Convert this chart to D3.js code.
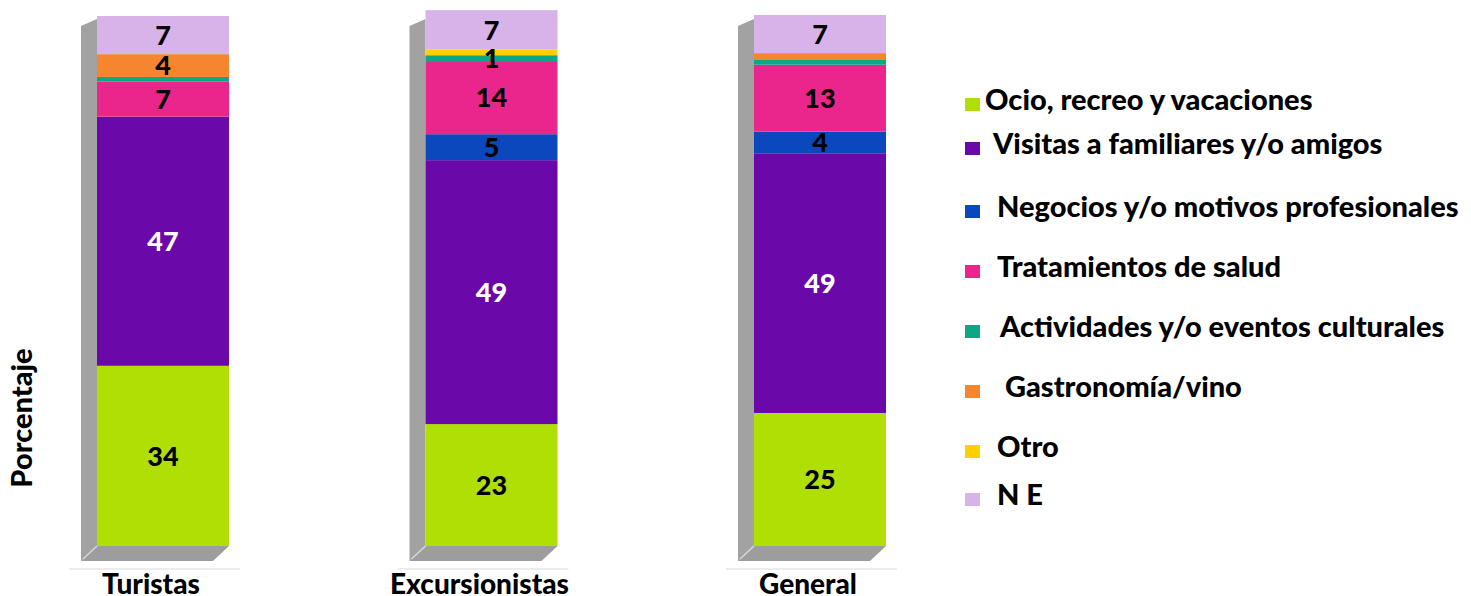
<!DOCTYPE html>
<html><head><meta charset="utf-8">
<script src="https://cdn.jsdelivr.net/npm/d3@7"></script>
<style>
html,body{margin:0;padding:0;background:#fff;}
svg{display:block;font-family:Lato,"Open Sans",sans-serif;font-weight:bold;}
</style></head>
<body>
<svg id="chart" width="1471" height="596"></svg>
<script>
// ---- data ----
const categories = ["Turistas", "Excursionistas", "General"];
const seriesNames = [
  "Ocio, recreo y vacaciones",
  "Visitas a familiares y/o amigos",
  "Negocios y/o motivos profesionales",
  "Tratamientos de salud",
  "Actividades y/o eventos culturales",
  "Gastronomía/vino",
  "Otro",
  "N E"
];
const seriesColors = ["#b0df06", "#6a08aa", "#0c48bd", "#ea268c", "#0ea685", "#f5862f", "#ffd000", "#d7b3ea"];
const ocio        = [34, 23, 25.1];
const visitas     = [47, 49.8, 49];
const negocios    = [0, 4.9, 4.1];
const salud       = [6.6, 13.8, 12.6];
const actividades = [0.9, 1.1, 0.9];
const gastronomia = [4.3, 0, 1.3];
const otro        = [0, 1.1, 0];
const ne          = [7.2, 7.4, 7.2];
// printed data labels (null = not shown)
const labelOcio        = ["34", "23", "25"];
const labelVisitas     = ["47", "49", "49"];
const labelNegocios    = [null, "5", "4"];
const labelSalud       = ["7", "14", "13"];
const labelActividades = [null, "1", null];
const labelGastronomia = ["4", null, null];
const labelOtro        = [null, null, null];
const labelNe          = ["7", "7", "7"];
const yTicks = [0, 100];
const yTitle = "Porcentaje";

const seriesValues = [ocio, visitas, negocios, salud, actividades, gastronomia, otro, ne];
const seriesLabels = [labelOcio, labelVisitas, labelNegocios, labelSalud, labelActividades, labelGastronomia, labelOtro, labelNe];
const whiteLabelSeries = [1];

// ---- layout ----
const svg = d3.select("#chart");
const barWidth = 132;
const depthX = 16, depthY = 15;
const x = d3.scalePoint().domain(categories).range([163, 820]);
const y = d3.scaleLinear().domain(yTicks).range([546, 16]);

const table = categories.map((c, i) => {
  const row = {cat: c};
  seriesNames.forEach((s, j) => row[s] = seriesValues[j][i]);
  return row;
});
const stack = d3.stack().keys(seriesNames)(table);

const g = svg.append("g");

// walls, floors, baseline
categories.forEach(c => {
  const x0 = x(c) - barWidth / 2, x1 = x(c) + barWidth / 2;
  const yb = y(0), yt = y(100);
  g.append("polygon")
    .attr("points", [[x0, yt + 3], [x0 - depthX, yt + 10], [x0 - depthX, yb + depthY], [x0, yb]].join(" "))
    .attr("fill", "#a2a2a2");
  g.append("polygon")
    .attr("points", [[x0, yb], [x1, yb], [x1 - depthX, yb + depthY], [x0 - depthX, yb + depthY]].join(" "))
    .attr("fill", "#9d9d9d");
  g.append("line")
    .attr("x1", x0).attr("y1", yb).attr("x2", x0 - depthX + 2).attr("y2", yb + depthY - 2)
    .attr("stroke", "#d8d8d8").attr("stroke-width", 1.5);
  g.append("line")
    .attr("x1", x0 - 28).attr("x2", x1 + 11).attr("y1", 569).attr("y2", 569)
    .attr("stroke", "#d9d9d9").attr("stroke-width", 1.2);
  g.append("text")
    .attr("x", x(c) - 12).attr("y", 594)
    .attr("text-anchor", "middle").attr("font-size", 28).attr("font-weight", 900).attr("fill", "#000")
    .text(c);
});

// stacked segments
stack.forEach((layer, j) => {
  g.append("g").selectAll("rect").data(layer).join("rect")
    .attr("x", d => x(d.data.cat) - barWidth / 2)
    .attr("width", barWidth)
    .attr("y", d => y(d[1]))
    .attr("height", d => Math.max(0, y(d[0]) - y(d[1])))
    .attr("fill", seriesColors[j]);
});

// data labels
stack.forEach((layer, j) => {
  g.append("g").selectAll("text").data(layer.map((d, i) => ({d, i})).filter(o => seriesLabels[j][o.i] != null)).join("text")
    .attr("x", o => x(o.d.data.cat))
    .attr("y", o => (y(o.d[0]) + y(o.d[1])) / 2)
    .attr("dy", "0.36em")
    .attr("text-anchor", "middle")
    .attr("font-size", 27)
    .attr("font-weight", 900)
    .attr("fill", whiteLabelSeries.includes(j) ? "#fff" : "#000")
    .text(o => seriesLabels[j][o.i]);
});

// y title
svg.append("text")
  .attr("transform", "translate(32,418) rotate(-90)")
  .attr("text-anchor", "middle").attr("font-size", 29).attr("font-weight", 900).attr("fill", "#000")
  .text(yTitle);

// legend
const legendBaseline = [110, 154, 217, 277, 337, 397, 457, 505];
const legendTextX = [985, 993, 997, 997, 1000, 1005, 997, 997];
const legend = svg.append("g");
seriesNames.forEach((s, j) => {
  legend.append("rect")
    .attr("x", 965).attr("y", legendBaseline[j] - 12)
    .attr("width", 15).attr("height", 13)
    .attr("fill", seriesColors[j]);
  legend.append("text")
    .attr("x", legendTextX[j]).attr("y", legendBaseline[j])
    .attr("font-size", 29).attr("font-weight", 900).attr("fill", "#000")
    .text(s);
});
</script>
</body></html>
